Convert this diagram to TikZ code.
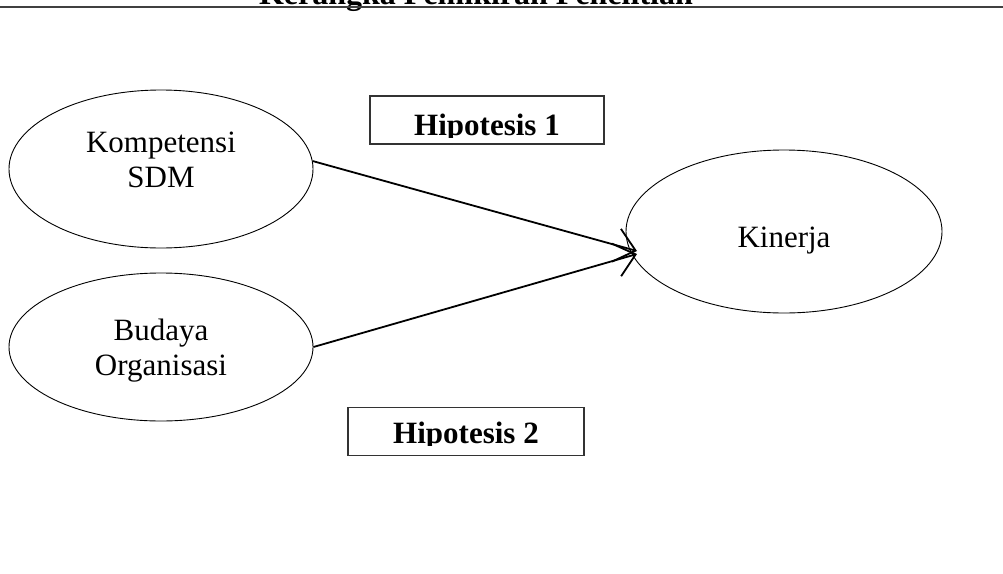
\documentclass[tikz,border=0pt]{standalone}
\usepackage{fontspec}
\setmainfont{Liberation Serif}
\usetikzlibrary{shapes.geometric,arrows.meta}
\tikzset{
  variabel/.style={ellipse, draw, line width=0.9pt, inner sep=0pt},
  vartext/.style={align=center, inner sep=0pt, font=\fontsize{31}{35}\selectfont},
  hipbox/.style={draw=black!80, line width=1.2pt, inner sep=0pt,
    minimum height=48pt},
  hiptext/.style={font=\fontsize{31}{35}\selectfont\bfseries, anchor=base,
    inner sep=0pt},
  pengaruh/.style={line width=1.8pt,
    -{Straight Barb[length=20pt,width=34pt,line width=1.8pt]}},
}

\begin{document}
\begin{tikzpicture}[x=1pt,y=-1pt]
  \clip (0,0) rectangle (1003,573);
  \fill[white] (0,0) rectangle (1003,573);
  % judul, terpotong di atas
  \node[font=\fontsize{32}{36}\selectfont\bfseries, anchor=base east,
    inner sep=0pt] (judul) at (693,4) {Kerangka Pemikiran Penelitian};
  \draw[black!75, line width=1.5pt] (0,7) -- (1003,7);

  \node[variabel, minimum width=304pt, minimum height=158pt] (komp) at (161,169) {};
  \node[variabel, minimum width=304pt, minimum height=148pt] (bud) at (161,347) {};
  \node[variabel, minimum width=316pt, minimum height=163pt] (kin) at (784,231.5) {};
  \node[vartext] (kompteks) at ([yshift=9pt]komp.center) {Kompetensi\\SDM};
  \node[vartext] (budteks) at ([yshift=-3.5pt]bud.center) {Budaya\\Organisasi};
  \node[vartext] (kinteks) at ([yshift=-9pt]kin.center) {Kinerja};

  \node[hipbox, minimum width=234pt] (hip1) at (487,120) {};
  \node[hipbox, minimum width=236pt] (hip2) at (466,431.5) {};
  \begin{scope}
    \clip (370,96) rectangle (604,137);
    \node[hiptext] (hip1txt) at (487,135) {Hipotesis 1};
  \end{scope}
  \begin{scope}
    \clip (348,407) rectangle (584,445);
    \node[hiptext] (hip2txt) at (466,443) {Hipotesis 2};
  \end{scope}

  \coordinate (ujung1) at (637,251);
  \coordinate (ujung2) at (637,254);
  \draw[pengaruh] (komp.3) -- (ujung1);
  \draw[pengaruh] (bud.east) -- (ujung2);
\end{tikzpicture}
\end{document}
